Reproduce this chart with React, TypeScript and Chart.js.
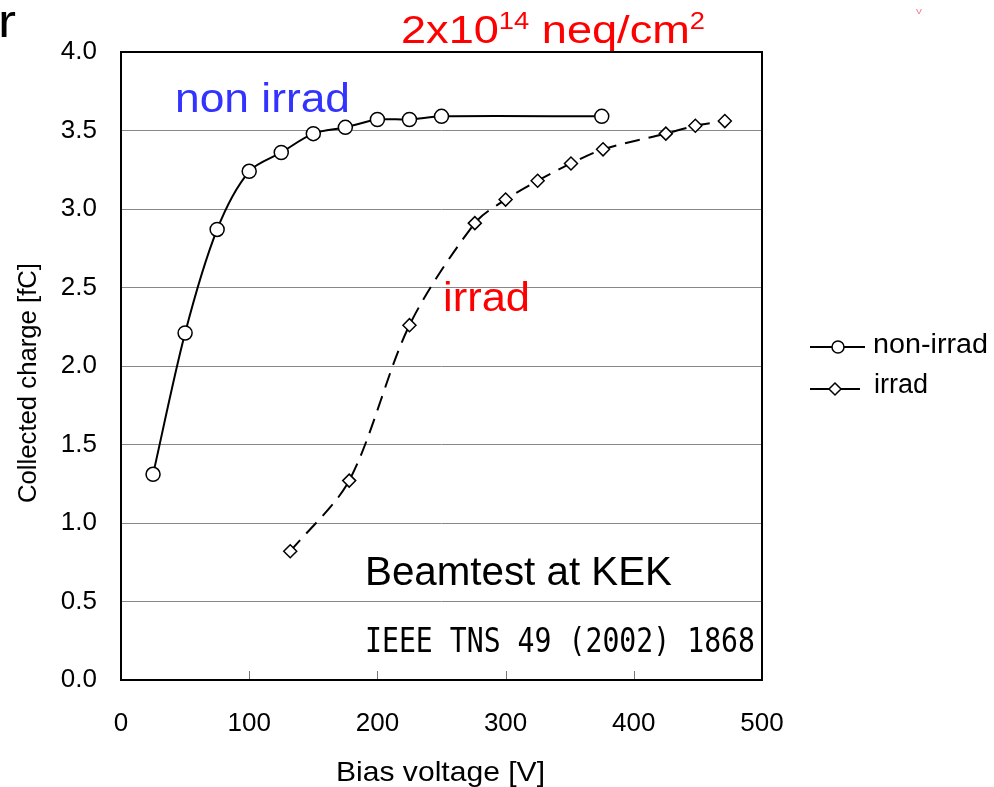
import React, { useEffect, useRef } from "react";
import { Chart, registerables } from "chart.js";

Chart.register(...registerables);

const nonIrradV = [25, 50, 75, 100, 125, 150, 175, 200, 225, 250, 375];
const nonIrradQ = [1.31, 2.21, 2.87, 3.24, 3.36, 3.48, 3.52, 3.57, 3.57, 3.59, 3.59];
const irradV = [132, 178, 225, 276, 300, 325, 351, 376, 425, 448, 471];
const irradQ = [0.82, 1.27, 2.26, 2.91, 3.06, 3.18, 3.29, 3.38, 3.48, 3.53, 3.56];
const xTicks = [0, 100, 200, 300, 400, 500];
const yTicks = [0, 0.5, 1, 1.5, 2, 2.5, 3, 3.5, 4];
const seriesNames = ["non-irrad", "irrad"];

const SANS = '"Liberation Sans", Arial, sans-serif';

function fitText(
  ctx: CanvasRenderingContext2D,
  text: string,
  x: number,
  y: number,
  w: number,
  font: string,
  color: string
) {
  ctx.save();
  ctx.font = font;
  ctx.textAlign = "left";
  ctx.textBaseline = "alphabetic";
  const m = ctx.measureText(text).width;
  ctx.translate(x, y);
  ctx.scale(w / m, 1);
  ctx.fillStyle = color;
  ctx.fillText(text, 0, 0);
  ctx.restore();
}

// pieces: [text, fontSize, baselineShift]
function fitGroup(
  ctx: CanvasRenderingContext2D,
  pieces: [string, number, number][],
  x: number,
  y: number,
  w: number,
  color: string
) {
  ctx.save();
  ctx.textAlign = "left";
  ctx.textBaseline = "alphabetic";
  let total = 0;
  const widths: number[] = [];
  for (const [t, s] of pieces) {
    ctx.font = `${s}px ${SANS}`;
    const m = ctx.measureText(t).width;
    widths.push(m);
    total += m;
  }
  ctx.translate(x, y);
  ctx.scale(w / total, 1);
  ctx.fillStyle = color;
  let cx = 0;
  pieces.forEach(([t, s, dy], i) => {
    ctx.font = `${s}px ${SANS}`;
    ctx.fillText(t, cx, dy);
    cx += widths[i];
  });
  ctx.restore();
}

const overlay = {
  id: "overlay",
  afterDraw(chart: any) {
    const ctx: CanvasRenderingContext2D = chart.ctx;
    const a = chart.chartArea;
    const xs = chart.scales.x;
    ctx.save();
    // inner x ticks
    ctx.strokeStyle = "#777";
    ctx.lineWidth = 1;
    for (const v of xTicks) {
      if (v === 0 || v === 500) continue;
      const px = Math.round(xs.getPixelForValue(v)) + 0.5;
      ctx.beginPath();
      ctx.moveTo(px, a.bottom);
      ctx.lineTo(px, a.bottom - 9);
      ctx.stroke();
    }
    // frame
    ctx.strokeStyle = "#000";
    ctx.lineWidth = 2;
    ctx.strokeRect(a.left, a.top, a.right - a.left, a.bottom - a.top);

    // axis titles
    fitText(ctx, "Bias voltage [V]", 336, 781, 209, `28px ${SANS}`, "#000");
    ctx.save();
    ctx.translate(36, 503);
    ctx.rotate(-Math.PI / 2);
    fitText(ctx, "Collected charge [fC]", 0, 0, 240, `25px ${SANS}`, "#000");
    ctx.restore();

    // annotations
    fitText(ctx, "r", -2, 37, 18, `46px ${SANS}`, "#000");
    const red = "#ff0000";
    fitGroup(
      ctx,
      [
        ["2x10", 38, 0],
        ["14", 23, -14],
        [" neq/cm", 38, 0],
        ["2", 23, -14],
      ],
      401,
      43,
      304,
      red
    );
    fitText(ctx, "non irrad", 175, 112, 175, `40px ${SANS}`, "#3333ff");
    fitText(ctx, "irrad", 443, 311, 87, `40px ${SANS}`, red);
    fitText(ctx, "Beamtest at KEK", 365, 585, 307, `40px ${SANS}`, "#000");
    fitText(
      ctx,
      "IEEE TNS 49 (2002) 1868",
      365,
      652,
      390,
      `34px "DejaVu Sans Mono", monospace`,
      "#000"
    );
    fitText(ctx, "v", 916, 14, 6, `9px ${SANS}`, "#ee8899");

    // legend
    ctx.strokeStyle = "#000";
    ctx.lineWidth = 2;
    ctx.setLineDash([]);
    ctx.beginPath();
    ctx.moveTo(810, 347);
    ctx.lineTo(865, 347);
    ctx.stroke();
    ctx.beginPath();
    ctx.arc(838, 347, 6, 0, Math.PI * 2);
    ctx.fillStyle = "#fff";
    ctx.fill();
    ctx.lineWidth = 1.5;
    ctx.stroke();
    ctx.lineWidth = 2;
    ctx.beginPath();
    ctx.moveTo(810, 389);
    ctx.lineTo(860, 389);
    ctx.stroke();
    ctx.beginPath();
    ctx.moveTo(835, 383);
    ctx.lineTo(841, 389);
    ctx.lineTo(835, 395);
    ctx.lineTo(829, 389);
    ctx.closePath();
    ctx.fillStyle = "#fff";
    ctx.fill();
    ctx.lineWidth = 1.5;
    ctx.stroke();
    fitText(ctx, seriesNames[0], 873, 353, 115, `27px ${SANS}`, "#000");
    fitText(ctx, seriesNames[1], 874, 393, 54, `27px ${SANS}`, "#000");
    ctx.restore();
  },
};

export default function App() {
  const ref = useRef<HTMLCanvasElement | null>(null);
  useEffect(() => {
    if (!ref.current) return;
    const chart = new Chart(ref.current, {
      type: "line",
      data: {
        datasets: [
          {
            label: seriesNames[0],
            data: nonIrradV.map((v, i) => ({ x: v, y: nonIrradQ[i] })),
            borderColor: "#000",
            borderWidth: 2,
            backgroundColor: "#fff",
            pointStyle: "circle",
            pointRadius: 7,
            pointBorderWidth: 1.5,
            pointBorderColor: "#000",
            pointBackgroundColor: "#fff",
            tension: 0.3,
            fill: false,
          },
          {
            label: seriesNames[1],
            data: irradV.map((v, i) => ({ x: v, y: irradQ[i] })),
            borderColor: "#000",
            borderWidth: 2,
            borderDash: [15, 9],
            backgroundColor: "#fff",
            pointStyle: "rectRot",
            pointRadius: 6.5,
            pointBorderWidth: 1.5,
            pointBorderColor: "#000",
            pointBackgroundColor: "#fff",
            tension: 0.3,
            fill: false,
          },
        ],
      },
      options: {
        animation: false,
        responsive: false,
        devicePixelRatio: 1,
        layout: { padding: { left: 0, top: 52, right: 232, bottom: 0 } },
        plugins: {
          legend: { display: false },
          tooltip: { enabled: false },
          title: { display: false },
        },
        scales: {
          x: {
            type: "linear",
            min: 0,
            max: 500,
            afterFit: (s: any) => {
              s.height = 107;
            },
            afterBuildTicks: (s: any) => {
              s.ticks = xTicks.map((v) => ({ value: v }));
            },
            grid: { display: false, drawTicks: false },
            border: { display: false },
            ticks: {
              padding: 28,
              color: "#000",
              font: { size: 26, family: SANS },
              maxRotation: 0,
              callback: (v: any) => String(v),
            },
          },
          y: {
            type: "linear",
            min: 0,
            max: 4,
            afterFit: (s: any) => {
              s.width = 121;
            },
            afterBuildTicks: (s: any) => {
              s.ticks = yTicks.map((v) => ({ value: v }));
            },
            grid: { color: "#888", lineWidth: 1, drawTicks: false },
            border: { display: false },
            ticks: {
              padding: 24,
              color: "#000",
              font: { size: 26, family: SANS },
              callback: (v: any) => Number(v).toFixed(1),
            },
          },
        },
      },
      plugins: [overlay],
    });
    return () => chart.destroy();
  }, []);
  return (
    <div style={{ position: "absolute", left: 0, top: 0, width: 994, height: 787, background: "#fff" }}>
      <canvas ref={ref} width={994} height={787} style={{ display: "block" }} />
    </div>
  );
}
